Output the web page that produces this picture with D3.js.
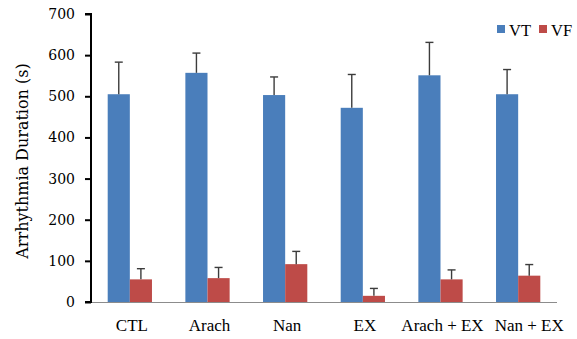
<!DOCTYPE html>
<html>
<head>
<meta charset="utf-8">
<script src="https://cdn.jsdelivr.net/npm/d3@7"></script>
<style>
html,body{margin:0;padding:0;background:#fff;}
svg{display:block;}
</style>
</head>
<body>
<svg id="chart" width="577" height="339"></svg>
<script>
const categories = ["CTL", "Arach", "Nan", "EX", "Arach + EX", "Nan + EX"];
const seriesNames = ["VT", "VF"];
const vtValues = [505, 557, 503, 472, 551, 505];
const vtErrors = [78, 48, 44, 81, 80, 60];
const vfValues = [55, 58, 92, 15, 55, 64];
const vfErrors = [26, 26, 31, 18, 23, 27];
const yTicks = [0, 100, 200, 300, 400, 500, 600, 700];
const colors = ["#4A7EBB", "#BE4B48"];

const svg = d3.select("#chart");
const mLeft = 91, mRight = 557, mTop = 14, mBottom = 302;

const x = d3.scaleBand().domain(categories).range([mLeft, mRight]).paddingInner(0.43).paddingOuter(0.215);
const xs = d3.scaleBand().domain(seriesNames).range([0, x.bandwidth()]);
const y = d3.scaleLinear().domain([0, 700]).range([mBottom, mTop]);

const data = [];
categories.forEach((c, i) => {
  data.push({cat: c, s: "VT", v: vtValues[i], e: vtErrors[i]});
  data.push({cat: c, s: "VF", v: vfValues[i], e: vfErrors[i]});
});

// x baseline
svg.append("line").attr("x1", mLeft).attr("x2", mRight).attr("y1", mBottom + 0.5).attr("y2", mBottom + 0.5)
  .attr("stroke", "#8c8c8c").attr("stroke-width", 1);

// bars
svg.append("g").selectAll("rect").data(data).join("rect")
  .attr("x", d => x(d.cat) + xs(d.s))
  .attr("width", xs.bandwidth())
  .attr("y", d => y(d.v))
  .attr("height", d => y(0) - y(d.v))
  .attr("fill", d => colors[seriesNames.indexOf(d.s)]);

// error bars
const eb = svg.append("g").attr("stroke", "#3c3c3c").attr("stroke-width", 1.4);
data.forEach(d => {
  const cx = x(d.cat) + xs(d.s) + xs.bandwidth() / 2;
  eb.append("line").attr("x1", cx).attr("x2", cx).attr("y1", y(d.v)).attr("y2", y(d.v + d.e));
  eb.append("line").attr("x1", cx - 4).attr("x2", cx + 4).attr("y1", y(d.v + d.e)).attr("y2", y(d.v + d.e));
});

// y axis
const yAxis = d3.axisLeft(y).tickValues(yTicks).tickSize(6).tickPadding(10).tickFormat(d3.format("d"));
const gy = svg.append("g").attr("transform", `translate(${mLeft},0)`).call(yAxis);
gy.select(".domain").attr("stroke", "#000").attr("stroke-width", 2).attr("d", `M-6,${mTop}H0V${mBottom}H-6`);
gy.selectAll(".tick line").attr("stroke", "#000").attr("stroke-width", 2);
gy.selectAll(".tick text").style("font-family", "'DejaVu Serif'").style("font-size", "14px").attr("fill", "#000");

// x labels
const xAxis = d3.axisBottom(x).tickSize(0).tickPadding(17);
const gx = svg.append("g").attr("transform", `translate(0,${mBottom})`).call(xAxis);
gx.select(".domain").remove();
gx.selectAll(".tick text").style("font-family", "'Liberation Serif'").style("font-size", "17px").attr("fill", "#000");
// keep a gap between neighbouring labels
let prevRight = -Infinity;
gx.selectAll(".tick text").each(function() {
  const b = this.getBBox();
  const tx = +d3.select(this.parentNode).attr("transform").match(/translate\(([-\d.]+)/)[1];
  let dx = 2;
  const l = tx + b.x + dx;
  if (l < prevRight + 11) dx += prevRight + 11 - l;
  d3.select(this).attr("dx", dx);
  prevRight = tx + b.x + dx + b.width;
});

// y title
svg.append("text")
  .attr("transform", `translate(28,161) rotate(-90)`)
  .attr("text-anchor", "middle")
  .style("font-family", "'DejaVu Serif'")
  .style("font-size", "16px")
  .attr("fill", "#000")
  .text("Arrhythmia Duration (s)");

// legend
const legendX = [497, 539];
const lg = svg.append("g");
seriesNames.forEach((s, i) => {
  lg.append("rect").attr("x", legendX[i]).attr("y", 25).attr("width", 8).attr("height", 8).attr("fill", colors[i]);
  lg.append("text").attr("x", legendX[i] + 12).attr("y", 35.5)
    .style("font-family", "'Liberation Serif'").style("font-size", "16.5px").attr("fill", "#000").text(s);
});
</script>
</body>
</html>
